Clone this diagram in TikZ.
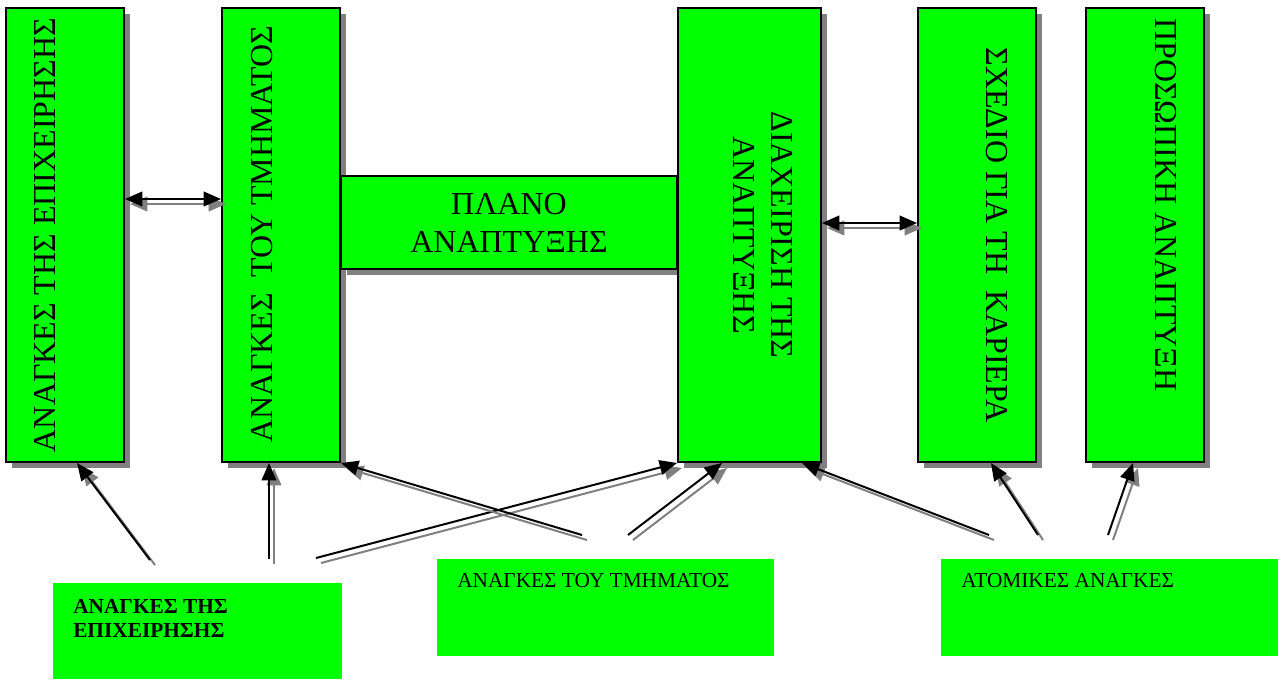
\documentclass[tikz,border=0pt]{standalone}
\usepackage{fontspec}
\setmainfont{Liberation Serif}
\usetikzlibrary{shadows,arrows.meta,calc}
\definecolor{boxgreen}{HTML}{00FF00}
\definecolor{shadegray}{HTML}{808080}
\begin{document}
\begin{tikzpicture}[x=0.75pt,y=-0.75pt,
  topbox/.style={draw=black, line width=1.5pt, fill=boxgreen, anchor=north west, inner sep=0pt,
    drop shadow={shadow xshift=4.5pt, shadow yshift=-4.5pt, fill=shadegray, opacity=1}},
  tallbox/.style={topbox, minimum width=88.5pt, minimum height=340.5pt},
  basebox/.style={fill=boxgreen, anchor=north west, inner sep=0pt, outer sep=0pt},
  vtext/.style={font=\fontsize{24}{28.5}\selectfont, inner sep=0pt},
  btext/.style={font=\fontsize{16}{18}\selectfont, inner sep=0pt, anchor=base west},
  conn/.style={line width=1.5pt, -{Triangle[length=13pt,width=11pt]}},
  both/.style={line width=1.5pt, {Triangle[length=13pt,width=11pt]}-{Triangle[length=13pt,width=11pt]}},
  shade/.style={draw=shadegray, transform canvas={xshift=3.75pt,yshift=-3.75pt}}]

\useasboundingbox (0,0) rectangle (1278,679);

% upper boxes
\node[tallbox] (b1) at (5,7) {};
\node[tallbox] (b2) at (221,7) {};
\node[topbox, minimum width=252pt, minimum height=69.75pt, vtext, align=center] (pl) at (340,175) {ΠΛΑΝΟ\\ΑΝΑΠΤΥΞΗΣ};
\node[topbox, minimum width=107.25pt, minimum height=340.5pt] (b4) at (677,7) {};
\node[tallbox] (b5) at (917,7) {};
\node[tallbox] (b6) at (1085,7) {};

% rotated texts
\node[vtext, rotate=90, anchor=base] (t1) at (55,235) {ΑΝΑΓΚΕΣ ΤΗΣ ΕΠΙΧΕΙΡΗΣΗΣ};
\node[vtext, rotate=90, anchor=base] (t2) at (272,234) {ΑΝΑΓΚΕΣ\ \ ΤΟΥ ΤΜΗΜΑΤΟΣ};
\node[vtext, rotate=-90, align=center] (t4) at (763,235) {ΔΙΑΧΕΙΡΙΣΗ ΤΗΣ\\ΑΝΑΠΤΥΞΗΣ};
\node[vtext, rotate=-90, anchor=base] (t5) at (986,235) {ΣΧΕΔΙΟ ΓΙΑ ΤΗ\ \ ΚΑΡΙΕΡΑ};
\node[vtext, rotate=-90, anchor=base west] (t6) at (1155,18) {ΠΡΟΣΩΠΙΚΗ ΑΝΑΠΤΥΞΗ};

% lower boxes
\node[basebox, minimum width=216.75pt, minimum height=72pt] (n1) at (53,583) {};
\node[basebox, minimum width=252.75pt, minimum height=72.75pt] (n2) at (437,559) {};
\node[basebox, minimum width=252.75pt, minimum height=72.75pt] (n3) at (941,559) {};
\node[btext, font=\bfseries\fontsize{16}{18}\selectfont, align=left] (l1) at (73,637) {ΑΝΑΓΚΕΣ ΤΗΣ\\ΕΠΙΧΕΙΡΗΣΗΣ};
\node[btext] (l2) at (457,587) {ΑΝΑΓΚΕΣ ΤΟΥ ΤΜΗΜΑΤΟΣ};
\node[btext] (l3) at (961,587) {ΑΤΟΜΙΚΕΣ ΑΝΑΓΚΕΣ};

% free ends of connectors
\coordinate (s1) at (150,560);
\coordinate (s2) at (269,559);
\coordinate (s3) at (316,558);
\coordinate (s4) at (582,535);
\coordinate (s5) at (628,535);
\coordinate (s6) at (989,535);
\coordinate (s7) at (1038,535);
\coordinate (s8) at (1108,535);

% tips on the boxes
\coordinate (e1) at ($(b1.south west)+(72,0)$);
\coordinate (e2) at ($(b2.south west)+(48,0)$);
\coordinate (e3) at (b4.south west);
\coordinate (e4) at (b2.south east);
\coordinate (e5) at ($(b4.south west)+(45,0)$);
\coordinate (e6) at ($(b4.south west)+(125,0)$);
\coordinate (e7) at ($(b5.south west)+(74,0)$);
\coordinate (e8) at ($(b6.south west)+(48,0)$);

\foreach \i in {1,...,8} {
  \draw[conn, shade] (s\i) -- (e\i);
  \draw[conn] (s\i) -- (e\i);
}

\coordinate (d1a) at ($(b1.north east)+(0,192)$);
\coordinate (d1b) at ($(b2.north west)+(0,192)$);
\coordinate (d2a) at ($(b4.north east)+(0,216)$);
\coordinate (d2b) at ($(b5.north west)+(0,216)$);
\draw[both, shade] (d1a) -- (d1b);
\draw[both] (d1a) -- (d1b);
\draw[both, shade] (d2a) -- (d2b);
\draw[both] (d2a) -- (d2b);
\end{tikzpicture}
\end{document}
